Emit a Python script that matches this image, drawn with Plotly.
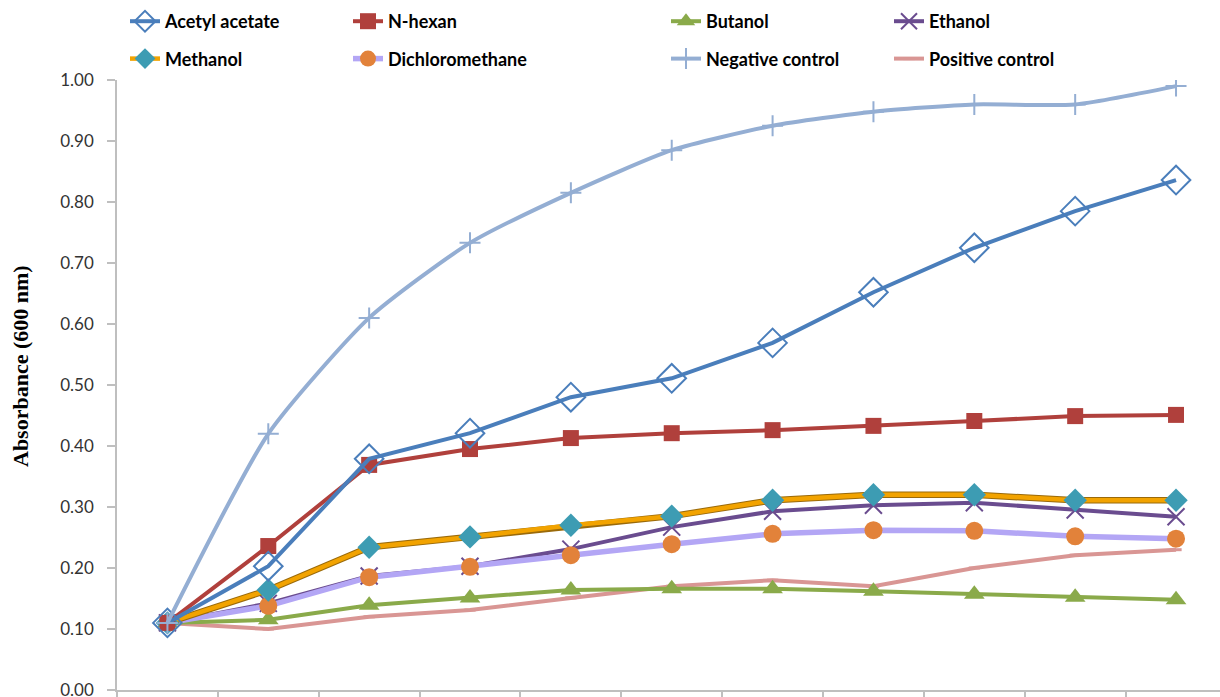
import plotly.graph_objects as go

x_pos = list(range(11))

acetyl_acetate = [0.11, 0.203, 0.379, 0.421, 0.480, 0.511, 0.569, 0.652, 0.725, 0.785, 0.836]
n_hexan = [0.11, 0.236, 0.369, 0.395, 0.413, 0.421, 0.426, 0.433, 0.441, 0.449, 0.451]
butanol = [0.11, 0.115, 0.139, 0.151, 0.164, 0.166, 0.166, 0.162, 0.157, 0.152, 0.148]
ethanol = [0.11, 0.142, 0.187, 0.203, 0.231, 0.267, 0.293, 0.303, 0.307, 0.295, 0.284]
methanol = [0.11, 0.164, 0.234, 0.251, 0.270, 0.285, 0.311, 0.320, 0.320, 0.311, 0.311]
dichloromethane = [0.11, 0.138, 0.185, 0.202, 0.221, 0.239, 0.256, 0.262, 0.261, 0.252, 0.248]
negative_control = [0.11, 0.42, 0.61, 0.733, 0.815, 0.885, 0.925, 0.948, 0.960, 0.960, 0.990]
positive_control = [0.11, 0.100, 0.120, 0.131, 0.151, 0.170, 0.180, 0.170, 0.200, 0.221, 0.230]

y_ticks = [0.0, 0.1, 0.2, 0.3, 0.4, 0.5, 0.6, 0.7, 0.8, 0.9, 1.0]
y_title = "Absorbance (600 nm)"

fig = go.Figure()

def add(name, y, color, width, symbol, msize, mcolor, mline_color=None, mline_w=0,
        legend="legend", line_extra=None, showlegend=True, rank=1):
    line = dict(color=color, width=width)
    if line_extra:
        line.update(line_extra)
    fig.add_trace(go.Scatter(
        x=x_pos, y=y, name=name, mode="lines+markers",
        line=line,
        marker=dict(symbol=symbol, size=msize, color=mcolor,
                    line=dict(color=mline_color or mcolor, width=mline_w)),
        legend=legend, legendgroup=name, showlegend=showlegend, legendrank=rank,
    ))

add("Positive control", positive_control, "#D99694", 4, "line-ew", 8, "#D99694",
    "#D99694", 3, legend="legend4", rank=2)
add("Butanol", butanol, "#8AAA4A", 4, "triangle-up", 18, "#8AAA4A", legend="legend3",
    rank=1)
add("Ethanol", ethanol, "#6A4C8F", 4, "x-thin-open", 17, "#6A4C8F", "#6A4C8F", 2,
    legend="legend4", rank=1)
add("Dichloromethane", dichloromethane, "#B3A6F5", 5.5, "circle", 18, "#E2823A",
    legend="legend2", rank=2)
# Methanol: brown under-stroke plus orange line
fig.add_trace(go.Scatter(x=x_pos, y=methanol, mode="lines",
                         line=dict(color="#9A6A0A", width=6.5), showlegend=False,
                         hoverinfo="skip"))
add("Methanol", methanol, "#F2A300", 4.5, "diamond", 18, "#3D9CB3", legend="legend",
    rank=2)
add("N-hexan", n_hexan, "#B0403C", 4, "square", 16, "#B0403C", legend="legend2",
    rank=1)
add("Acetyl acetate", acetyl_acetate, "#4A7EBB", 4, "diamond-open", 22, "#4A7EBB",
    "#4A7EBB", 2, legend="legend", rank=1)
add("Negative control", negative_control, "#94AED3", 4, "cross-thin-open", 15,
    "#94AED3", "#94AED3", 2, legend="legend3",
    line_extra=dict(shape="spline", smoothing=0.6), rank=2)

leg_font = dict(family="Lato, Carlito, sans-serif", size=18, color="#000000",
                weight="bold")
leg_common = dict(font=leg_font, xref="container", yref="container", xanchor="left",
                  yanchor="top", bgcolor="rgba(0,0,0,0)", traceorder="grouped",
                  tracegroupgap=11, orientation="v")
leg_top = 1 - 3 / 697

fig.update_layout(
    width=1220, height=697,
    margin=dict(l=117, r=0, t=80, b=7, autoexpand=False),
    plot_bgcolor="white", paper_bgcolor="white",
    showlegend=True,
    legend=dict(x=125 / 1220, y=leg_top, **leg_common),
    legend2=dict(x=348 / 1220, y=leg_top, **leg_common),
    legend3=dict(x=666 / 1220, y=leg_top, **leg_common),
    legend4=dict(x=889 / 1220, y=leg_top, **leg_common),
    xaxis=dict(range=[-0.5, 10.436], showgrid=False, zeroline=False,
               showline=True, linecolor="#BFBFBF", linewidth=1.5,
               tickmode="array", tickvals=[i - 0.5 for i in range(12)],
               ticktext=["" for _ in range(12)], ticks="outside", ticklen=8,
               tickcolor="#BFBFBF", tickwidth=1.5, showticklabels=False),
    yaxis=dict(range=[0, 1.0], showgrid=False, zeroline=False,
               showline=True, linecolor="#BFBFBF", linewidth=1.5,
               tickmode="array", tickvals=y_ticks, tickformat=".2f",
               ticks="outside", ticklen=8, tickcolor="#BFBFBF", tickwidth=1.5,
               ticklabelstandoff=10, ticklabeloverflow="allow",
               tickfont=dict(family="Lato, Carlito, sans-serif", size=17,
                             color="#333333")),
    annotations=[dict(text="<b>" + y_title + "</b>", textangle=-90,
                      xref="paper", yref="paper", x=-97 / 1103, y=(690 - 366) / 610,
                      xanchor="center", yanchor="middle", showarrow=False,
                      font=dict(family="Liberation Serif, Times New Roman, serif",
                                size=22, color="#000000"))],
)

fig.write_html("out.html", config={"displayModeBar": False},
               post_script="document.body.style.margin='0px';")
